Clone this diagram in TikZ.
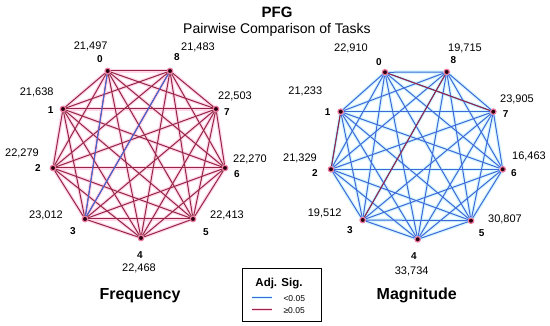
\documentclass[tikz,border=0pt]{standalone}
\usepackage{fontspec}
\setmainfont{Liberation Sans}

\definecolor{sigBlue}{RGB}{64,104,216}
\definecolor{sigRed}{RGB}{150,38,68}
\definecolor{haloBlue}{RGB}{212,246,255}
\definecolor{haloRed}{RGB}{255,214,234}
\definecolor{vertDark}{RGB}{45,0,15}
\definecolor{vertGlow}{RGB}{238,120,158}

\tikzset{
	vertex/.style={circle, fill=vertDark, draw=vertGlow, line width=1.2pt, inner sep=0pt, minimum size=5.5pt},
	idx/.style={font=\bfseries\fontsize{10}{12}\selectfont},
	val/.style={font=\fontsize{11}{13}\selectfont},
	redEdge/.style={sigRed, line width=1pt},
	blueEdge/.style={sigBlue, line width=1pt},
	glowRed/.style={haloRed, line width=3.5pt},
	glowBlue/.style={haloBlue, line width=3.5pt}
}

\begin{document}
\begin{tikzpicture}[x=1pt,y=1pt]

		\useasboundingbox (0,0) rectangle (550,326);

		% Title
		\node[font=\bfseries\fontsize{15}{18}\selectfont] (title) at (277,314) {PFG};
		\node[font=\fontsize{14}{17}\selectfont] (subtitle) at (277,296) {Pairwise Comparison of Tasks};

		% Frequency graph: vertices and labels
		\node[vertex] (L0) at (107.7,255) {}; \node[idx] (L0n) at (100,267) {0}; \node[val] (L0v) at (90.7,279.3) {21,497};
		\node[vertex] (L1) at (63,217) {};    \node[idx] (L1n) at (50.7,216) {1}; \node[val] (L1v) at (36.7,233.3) {21,638};
		\node[vertex] (L2) at (53,158) {};    \node[idx] (L2n) at (38,158) {2};   \node[val] (L2v) at (22,173) {22,279};
		\node[vertex] (L3) at (85,107) {};    \node[idx] (L3n) at (73,95) {3};    \node[val] (L3v) at (46,111) {23,012};
		\node[vertex] (L4) at (141,88) {};    \node[idx] (L4n) at (140,71) {4};   \node[val] (L4v) at (139,58) {22,468};
		\node[vertex] (L5) at (193,107) {};   \node[idx] (L5n) at (206,94) {5};   \node[val] (L5v) at (227,111) {22,413};
		\node[vertex] (L6) at (225,158) {};   \node[idx] (L6n) at (237,152) {6};  \node[val] (L6v) at (250,167) {22,270};
		\node[vertex] (L7) at (216,217) {};   \node[idx] (L7n) at (227,214) {7};  \node[val] (L7v) at (235,230) {22,503};
		\node[vertex] (L8) at (170,255) {};   \node[idx] (L8n) at (177,269) {8};  \node[val] (L8v) at (198,279) {21,483};
		\node[font=\bfseries\fontsize{16}{19}\selectfont] (freq) at (140,30) {Frequency};

		% Magnitude graph: vertices and labels
		\node[vertex] (R0) at (385,253.7) {};   \node[idx] (R0n) at (379,264.3) {0};   \node[val] (R0v) at (351,277.7) {22,910};
		\node[vertex] (R1) at (340.7,214.3) {}; \node[idx] (R1n) at (327.7,214.3) {1}; \node[val] (R1v) at (305.3,234.3) {21,233};
		\node[vertex] (R2) at (331,156.7) {};   \node[idx] (R2n) at (315,152.7) {2};   \node[val] (R2v) at (300,167.7) {21,329};
		\node[vertex] (R3) at (362.7,106) {};   \node[idx] (R3n) at (350,96) {3};      \node[val] (R3v) at (324.7,112.7) {19,512};
		\node[vertex] (R4) at (417.7,86.7) {};  \node[idx] (R4n) at (414,70) {4};      \node[val] (R4v) at (411.7,55) {33,734};
		\node[vertex] (R5) at (471,105.3) {};   \node[idx] (R5n) at (481.7,93) {5};    \node[val] (R5v) at (505,107) {30,807};
		\node[vertex] (R6) at (502.7,156.7) {}; \node[idx] (R6n) at (514,153) {6};     \node[val] (R6v) at (529,169.3) {16,463};
		\node[vertex] (R7) at (493.3,214.3) {}; \node[idx] (R7n) at (505.7,212) {7};   \node[val] (R7v) at (517,227) {23,905};
		\node[vertex] (R8) at (446.7,254) {};   \node[idx] (R8n) at (453.3,266) {8};   \node[val] (R8v) at (465,277.7) {19,715};
		\node[font=\bfseries\fontsize{16}{19}\selectfont] (magn) at (416.7,31) {Magnitude};

		% Pale glow under every edge
		\foreach \i in {0,...,7}{
			\pgfmathtruncatemacro{\k}{\i+1}
			\foreach \j in {\k,...,8}{
				\draw[glowRed] (L\i) -- (L\j);
				\draw[glowBlue] (R\i) -- (R\j);
			}
		}

		% All pairs (majority colour)
		\foreach \i in {0,...,7}{
			\pgfmathtruncatemacro{\k}{\i+1}
			\foreach \j in {\k,...,8}{
				\draw[redEdge] (L\i) -- (L\j);
				\draw[blueEdge] (R\i) -- (R\j);
			}
		}

		% Pairs in the other class
		\draw[blueEdge] (L0) -- (L3);
		\draw[blueEdge] (L8) -- (L3);
		\draw[redEdge] (R0) -- (R7);
		\draw[redEdge] (R8) -- (R3);
		\draw[redEdge] (R1) -- (R2);

		% Legend
		\node[draw, line width=0.9pt, minimum width=79pt, minimum height=52.7pt, inner sep=0pt] (legend) at (282.2,31.35) {};
		\node[font=\bfseries\fontsize{11.5}{14}\selectfont] (legTitle) at (279,42) {Adj. Sig.};
		\coordinate (kb1) at (251.7,28.3);
		\coordinate (kb2) at (271.7,28.3);
		\coordinate (kr1) at (251.7,16.7);
		\coordinate (kr2) at (271.7,16.7);
		\draw[glowBlue] (kb1) -- (kb2);
		\draw[glowRed] (kr1) -- (kr2);
		\draw[blueEdge] (kb1) -- (kb2);
		\draw[redEdge] (kr1) -- (kr2);
		\node[anchor=west, font=\fontsize{8.5}{10}\selectfont] (legLow) at (280,27) {<0.05};
		\node[anchor=west, font=\fontsize{8.5}{10}\selectfont] (legHigh) at (280,15) {≥0.05};

	\end{tikzpicture}
\end{document}
